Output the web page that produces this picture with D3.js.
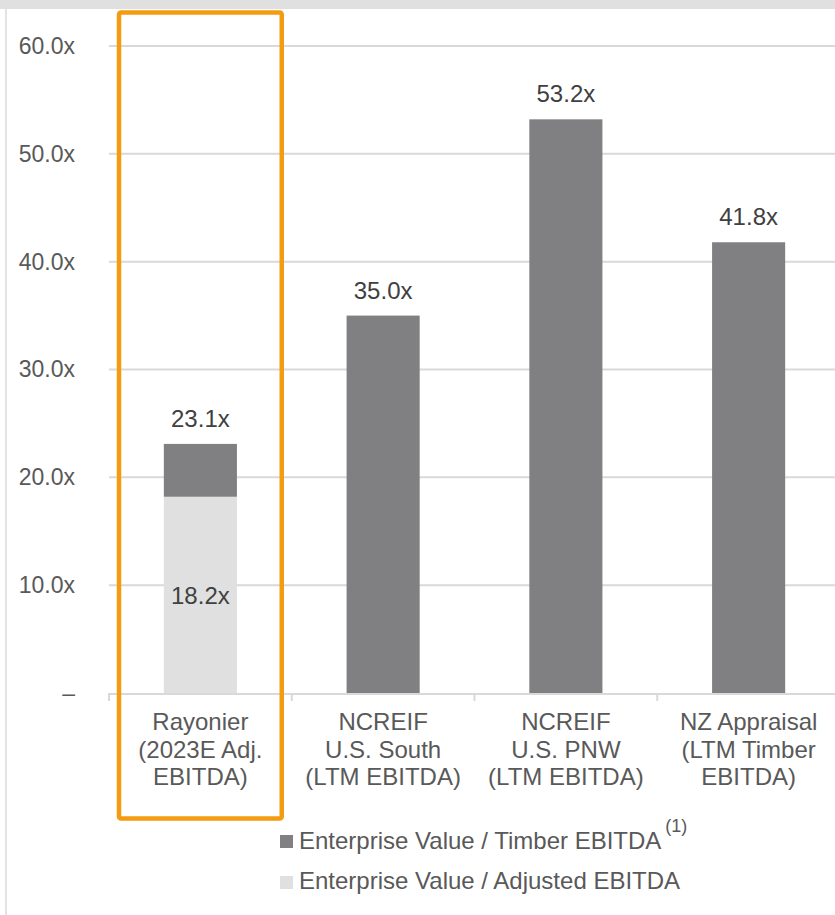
<!DOCTYPE html>
<html>
<head>
<meta charset="utf-8">
<script src="https://cdn.jsdelivr.net/npm/d3@7"></script>
<style>
  body { margin: 0; background: #fff; }
  svg text { font-family: "Liberation Sans", Arial, sans-serif; }
</style>
</head>
<body>
<div id="chart"></div>
<script>
// ---- data ----
var categories = ['Rayonier', 'NCREIF South', 'NCREIF PNW', 'NZ Appraisal'];
var categoryLines = [
  ['Rayonier', '(2023E Adj.', 'EBITDA)'],
  ['NCREIF', 'U.S. South', '(LTM EBITDA)'],
  ['NCREIF', 'U.S. PNW', '(LTM EBITDA)'],
  ['NZ Appraisal', '(LTM Timber', 'EBITDA)']
];
var timberEbitda = [23.1, 35.0, 53.2, 41.8];
var adjustedEbitda = [18.2, null, null, null];
var yTicks = [0, 10, 20, 30, 40, 50, 60];
var yTickLabels = ['–', '10.0x', '20.0x', '30.0x', '40.0x', '50.0x', '60.0x'];
var seriesNames = ['Enterprise Value / Timber EBITDA', 'Enterprise Value / Adjusted EBITDA'];

var width = 835, height = 915;
var darkGray = '#808083', lightGray = '#e0e0e0', orange = '#f39c12';

var svg = d3.select('#chart')
  .append('svg')
  .attr('width', width)
  .attr('height', height);

// frame: top band + left rule
svg.append('rect')
  .attr('x', 0).attr('y', 0)
  .attr('width', width).attr('height', 9)
  .attr('fill', '#e0e0e0');
svg.append('line')
  .attr('x1', 6).attr('x2', 6)
  .attr('y1', 9).attr('y2', height)
  .attr('stroke', '#e4e4e4')
  .attr('stroke-width', 2);

var xscale = d3.scaleBand()
  .domain(categories)
  .range([109, 840])
  .paddingInner(0.6)
  .paddingOuter(0.3);

var yscale = d3.scaleLinear()
  .domain([0, 60])
  .range([693, 46]);

// gridlines
svg.append('g')
  .selectAll('line')
  .data(yTicks.filter(d => d > 0))
  .join('line')
  .attr('x1', 109).attr('x2', width)
  .attr('y1', d => yscale(d)).attr('y2', d => yscale(d))
  .attr('stroke', '#d9d9d9')
  .attr('stroke-width', 2);

// y axis labels
var yaxis = d3.axisLeft(yscale)
  .tickValues(yTicks)
  .tickFormat((d, i) => yTickLabels[i])
  .tickSize(0)
  .tickPadding(0);
var yg = svg.append('g')
  .attr('transform', 'translate(75,0)')
  .call(yaxis);
yg.select('.domain').remove();
yg.selectAll('text')
  .attr('fill', '#595959')
  .style('font-size', '23px');

// bars
var step = xscale.step();
var bars = svg.append('g');
categories.forEach(function(c, i) {
  var base = adjustedEbitda[i] != null ? adjustedEbitda[i] : 0;
  if (adjustedEbitda[i] != null) {
    bars.append('rect')
      .attr('x', xscale(c))
      .attr('y', yscale(adjustedEbitda[i]))
      .attr('width', xscale.bandwidth())
      .attr('height', yscale(0) - yscale(adjustedEbitda[i]))
      .attr('fill', lightGray);
  }
  bars.append('rect')
    .attr('x', xscale(c))
    .attr('y', yscale(timberEbitda[i]))
    .attr('width', xscale.bandwidth())
    .attr('height', yscale(base) - yscale(timberEbitda[i]))
    .attr('fill', darkGray);
});

// x axis line and ticks between categories
var boundaries = categories.map(c => xscale(c) - step * 0.3).concat([xscale(categories[3]) + xscale.bandwidth() + step * 0.3]);
svg.append('line')
  .attr('x1', 108).attr('x2', width)
  .attr('y1', yscale(0) + 1).attr('y2', yscale(0) + 1)
  .attr('stroke', '#d9d9d9')
  .attr('stroke-width', 2);
svg.append('g')
  .selectAll('line')
  .data(boundaries)
  .join('line')
  .attr('x1', d => d).attr('x2', d => d)
  .attr('y1', yscale(0)).attr('y2', yscale(0) + 8)
  .attr('stroke', '#d9d9d9')
  .attr('stroke-width', 2);

// category labels
svg.append('g')
  .selectAll('text')
  .data(categories)
  .join('text')
  .attr('text-anchor', 'middle')
  .attr('fill', '#595959')
  .style('font-size', '24px')
  .each(function(c, i) {
    var t = d3.select(this);
    categoryLines[i].forEach(function(line, j) {
      t.append('tspan')
        .attr('x', xscale(c) + xscale.bandwidth() / 2)
        .attr('y', 730 + j * 27.5)
        .text(line);
    });
  });

// value labels
svg.append('g')
  .selectAll('text')
  .data(categories)
  .join('text')
  .attr('x', c => xscale(c) + xscale.bandwidth() / 2)
  .attr('y', (c, i) => yscale(timberEbitda[i]) - 17)
  .attr('text-anchor', 'middle')
  .attr('fill', '#404040')
  .style('font-size', '24px')
  .text((c, i) => timberEbitda[i].toFixed(1) + 'x');

svg.append('g')
  .selectAll('text')
  .data(categories.filter((c, i) => adjustedEbitda[i] != null))
  .join('text')
  .attr('x', c => xscale(c) + xscale.bandwidth() / 2)
  .attr('y', c => (yscale(0) + yscale(adjustedEbitda[categories.indexOf(c)])) / 2)
  .attr('dy', '0.38em')
  .attr('text-anchor', 'middle')
  .attr('fill', '#404040')
  .style('font-size', '24px')
  .text(c => adjustedEbitda[categories.indexOf(c)].toFixed(1) + 'x');

// highlight box around Rayonier
svg.append('rect')
  .attr('x', boundaries[0] + 10)
  .attr('y', 12.5)
  .attr('width', boundaries[1] - boundaries[0] - 20)
  .attr('height', 806)
  .attr('rx', 2)
  .attr('fill', 'none')
  .attr('stroke', orange)
  .attr('stroke-width', 4.5);

// legend
var legend = svg.append('g').attr('transform', 'translate(280, 835)');
legend.append('rect')
  .attr('x', 0).attr('y', 0)
  .attr('width', 13).attr('height', 13)
  .attr('fill', darkGray);
legend.append('rect')
  .attr('x', 0).attr('y', 41)
  .attr('width', 13).attr('height', 13)
  .attr('fill', lightGray);
var lt = legend.append('text')
  .attr('x', 19).attr('y', 14)
  .attr('fill', '#595959')
  .style('font-size', '24px');
lt.append('tspan').text(seriesNames[0]);
lt.append('tspan')
  .attr('dx', 4).attr('dy', -17)
  .style('font-size', '18px')
  .text('(1)');
legend.append('text')
  .attr('x', 19).attr('y', 54)
  .attr('fill', '#595959')
  .style('font-size', '24px')
  .text(seriesNames[1]);
</script>
</body>
</html>
